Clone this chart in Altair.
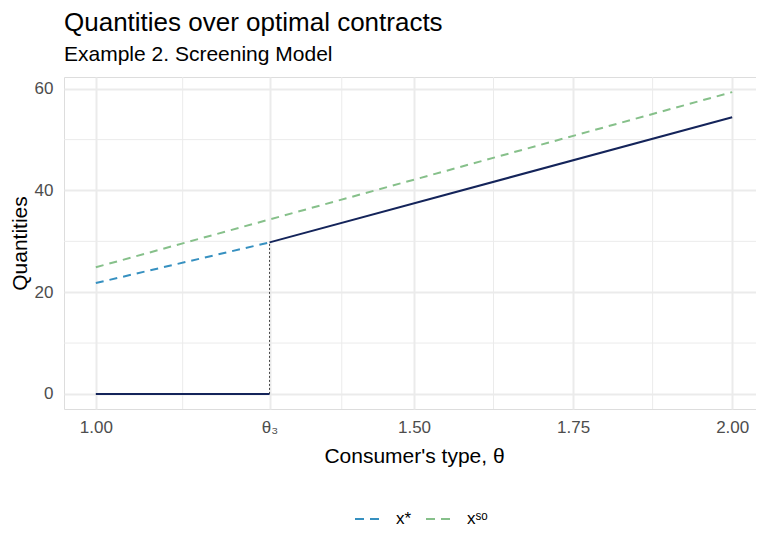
import altair as alt
import pandas as pd

# ---- data ----
theta3 = 1.273
series_names = ["x*", "xˢᵒ"]
series_colors = ["#3690c0", "#86c08a"]
optimal_color = "#14245a"

xstar_theta = [1.0, theta3]
xstar_q = [21.8, 29.8]
xso_theta = [1.0, 2.0]
xso_q = [24.9, 59.35]

opt_low_theta = [1.0, theta3]
opt_low_q = [0.0, 0.0]
opt_high_theta = [theta3, 2.0]
opt_high_q = [29.8, 54.4]

cut_theta = [theta3]
cut_q0 = [0.0]
cut_q1 = [29.8]

x_ticks = [1.0, theta3, 1.5, 1.75, 2.0]
x_tick_labels = ["1.00", "θ₃", "1.50", "1.75", "2.00"]
x_minor = [(x_ticks[i] + x_ticks[i + 1]) / 2 for i in range(len(x_ticks) - 1)]
y_ticks = [0, 20, 40, 60]
y_minor = [10, 30, 50]

# ---- tables ----
dashed = pd.DataFrame({
    "theta": xstar_theta + xso_theta,
    "q": xstar_q + xso_q,
    "series": [series_names[0]] * len(xstar_theta) + [series_names[1]] * len(xso_theta),
})
solid = pd.DataFrame({
    "theta": opt_low_theta + opt_high_theta,
    "q": opt_low_q + opt_high_q,
    "seg": ["low"] * len(opt_low_theta) + ["high"] * len(opt_high_theta),
})
cut = pd.DataFrame({"theta": cut_theta, "q0": cut_q0, "q1": cut_q1})
xminor_df = pd.DataFrame({"theta": x_minor})
yminor_df = pd.DataFrame({"q": y_minor})

# ggplot-like 5% expansion
xmin, xmax = 1.0, 2.0
all_q = xstar_q + xso_q + opt_low_q + opt_high_q
ymin, ymax = min(all_q), max(all_q)
xd = [xmin - 0.05 * (xmax - xmin), xmax + 0.05 * (xmax - xmin)]
yd = [ymin - 0.05 * (ymax - ymin), ymax + 0.05 * (ymax - ymin)]

label_expr = " : ".join(
    f"abs(datum.value - {v}) < 1e-6 ? '{t}'" for v, t in zip(x_ticks, x_tick_labels)
) + " : ''"

FONT = "Liberation Sans"
GRID = "#ebebeb"

x_axis = alt.Axis(
    values=x_ticks, labelExpr=label_expr, grid=True, gridColor=GRID, gridWidth=2,
    domain=False, ticks=False, labelFontSize=17, labelColor="#4d4d4d", labelFont=FONT,
    labelPadding=10, labelFlush=False, labelOverlap=False,
    title="Consumer's type, θ", titleFontSize=21, titleFont=FONT,
    titleFontWeight="normal", titleColor="black", titlePadding=10,
)
y_axis = alt.Axis(
    values=y_ticks, format="d", grid=True, gridColor=GRID, gridWidth=2,
    domain=False, ticks=False, labelFontSize=17, labelColor="#4d4d4d", labelFont=FONT,
    labelPadding=11, labelFlush=False, labelOverlap=False,
    title="Quantities", titleFontSize=21, titleFont=FONT,
    titleFontWeight="normal", titleColor="black", titlePadding=4,
)

xs = alt.Scale(domain=xd, nice=False, zero=False)
ys = alt.Scale(domain=yd, nice=False, zero=False)

def X(field="theta"):
    return alt.X(f"{field}:Q", scale=xs, axis=x_axis)

def Y(field="q"):
    return alt.Y(f"{field}:Q", scale=ys, axis=y_axis)

minor_x = alt.Chart(xminor_df).mark_rule(color=GRID, strokeWidth=1).encode(x=X())
minor_y = alt.Chart(yminor_df).mark_rule(color=GRID, strokeWidth=1).encode(y=Y())

dashed_lines = alt.Chart(dashed).mark_line(strokeDash=[8, 6], strokeWidth=2).encode(
    x=X(), y=Y(),
    color=alt.Color(
        "series:N",
        scale=alt.Scale(domain=series_names, range=series_colors),
        sort=series_names,
        legend=alt.Legend(
            title=None, orient="none", legendX=290, legendY=428, direction="horizontal",
            symbolType="stroke", symbolStrokeWidth=2, symbolSize=676,
            symbolDash=[9, 6], labelFontSize=17, labelFont=FONT, labelColor="black",
            labelOffset=14, columnPadding=10,
        ),
    ),
)

solid_lines = alt.Chart(solid).mark_line(color=optimal_color, strokeWidth=2).encode(
    x=X(), y=Y(), detail="seg:N"
)

cut_rule = alt.Chart(cut).mark_rule(color="#444444", strokeWidth=1, strokeDash=[2, 2]).encode(
    x=X(), y=Y("q0"), y2="q1:Q"
)

chart = alt.layer(minor_x, minor_y, cut_rule, dashed_lines, solid_lines).properties(
    width=700,
    height=332,
    autosize=alt.AutoSizeParams(type="none"),
    padding={"left": 56, "top": 69, "right": -8, "bottom": 119},
    title=alt.Title(
        "Quantities over optimal contracts",
        subtitle="Example 2. Screening Model",
        anchor="start", frame="group", font=FONT, fontSize=26, fontWeight="normal",
        color="black", subtitleFont=FONT, subtitleFontSize=21, subtitleColor="black",
        subtitlePadding=8, offset=12,
    ),
).configure_view(stroke=None).configure(background="white")

chart.save("out.html", embed_options={"renderer": "svg", "actions": False})
